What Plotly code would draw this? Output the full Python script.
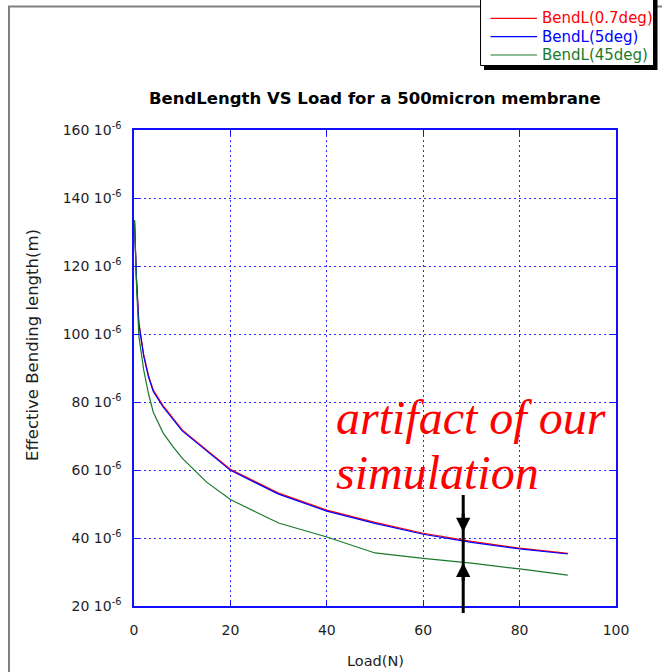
import plotly.graph_objects as go

# Load (N) at which the bending length was evaluated
load_n = [0.1, 0.5, 1, 2, 3, 4, 6, 8, 10, 15, 20, 30, 40, 50, 60, 70, 80, 90]

# Effective bending length, in units of 1e-6 m
bendl_07deg = [133.0, 117.0, 103.5, 94.0, 87.8, 83.5, 79.0, 75.3, 71.8, 66.0,
               60.2, 53.2, 48.2, 44.6, 41.4, 39.0, 37.0, 35.5]
bendl_5deg = [133.5, 116.5, 103.0, 93.6, 87.4, 83.1, 78.6, 75.0, 71.5, 65.7,
              59.9, 52.9, 47.9, 44.3, 41.1, 38.7, 36.8, 35.3]
bendl_45deg = [133.5, 115.0, 99.5, 89.5, 82.5, 77.0, 71.0, 67.0, 63.5, 56.5,
               51.3, 44.4, 40.3, 35.6, 34.0, 32.6, 30.9, 29.1]

series_names = ["BendL(0.7deg)", "BendL(5deg)", "BendL(45deg)"]
series_colors = ["#ff0000", "#0000ff", "#1a7a2a"]

x_ticks = [0, 20, 40, 60, 80, 100]
y_ticks = [20, 40, 60, 80, 100, 120, 140, 160]
y_ticktext = [f"{v} 10<sup>-6</sup>" for v in y_ticks]

# Load where the two curves are compared, and arrow tip levels (1e-6 m)
arrow_load = 68.3
arrow_tip_upper = 41.8
arrow_tip_lower = 32.7

W, H = 662, 672
ML, MR, MT, MB = 134, 46, 130, 66
PW, PH = W - ML - MR, H - MT - MB


def px_x(px):
    return (px - ML) / PW


def px_y(py):
    return (H - MB - py) / PH


AXIS_BLUE = "#1010ff"
GRID_BLUE = "#2a2aff"
TEXT = "#1e1e1e"

fig = go.Figure()
for name, color, ys in zip(series_names, series_colors,
                           [bendl_07deg, bendl_5deg, bendl_45deg]):
    fig.add_trace(go.Scatter(
        x=load_n, y=ys, mode="lines", name=name, showlegend=False,
        line=dict(color=color, width=1.2),
    ))

axis_common = dict(
    showline=True, linecolor=AXIS_BLUE, linewidth=1.5, mirror="ticks",
    ticks="inside", ticklen=6, tickcolor=AXIS_BLUE, tickwidth=1,
    showgrid=True, gridcolor=GRID_BLUE, gridwidth=1, griddash="2px,3px",
    zeroline=False,
    tickfont=dict(family="DejaVu Sans", size=14, color=TEXT),
)

fig.update_xaxes(range=[0, 100], tickvals=x_ticks, ticklabelstandoff=10,
                 **axis_common)
fig.update_yaxes(range=[20, 160], tickvals=y_ticks, ticktext=y_ticktext,
                 ticklabelstandoff=8, **axis_common)

shapes = [
    # window frame
    dict(type="line", xref="paper", yref="paper",
         x0=px_x(9), x1=px_x(9), y0=px_y(6.5), y1=px_y(H + 5),
         line=dict(color="#808080", width=2), layer="below"),
    dict(type="line", xref="paper", yref="paper",
         x0=px_x(8), x1=px_x(W + 5), y0=px_y(6.5), y1=px_y(6.5),
         line=dict(color="#808080", width=2), layer="below"),
    # legend box with drop shadow
    dict(type="rect", xref="paper", yref="paper",
         x0=px_x(484), x1=px_x(657.5), y0=px_y(-5), y1=px_y(70),
         fillcolor="black", line=dict(width=0), layer="above"),
    dict(type="rect", xref="paper", yref="paper",
         x0=px_x(480.5), x1=px_x(653.5), y0=px_y(-5), y1=px_y(65.5),
         fillcolor="white", line=dict(color="black", width=1), layer="above"),
    # comparison marker line
    dict(type="line", xref="x", yref="paper",
         x0=arrow_load, x1=arrow_load, y0=px_y(495), y1=px_y(613),
         line=dict(color="black", width=3), layer="above"),
]

annotations = [
    dict(text="BendLength VS Load for a 500micron membrane",
         xref="paper", yref="paper", x=0.5, y=px_y(98),
         xanchor="center", yanchor="middle", showarrow=False,
         font=dict(family="DejaVu Sans", size=16.5, color="black", weight="bold")),
    dict(text="Effective Bending length(m)", textangle=-90,
         xref="paper", yref="paper", x=px_x(32), y=px_y(345),
         xanchor="center", yanchor="middle", showarrow=False,
         font=dict(family="DejaVu Sans", size=16.5, color=TEXT)),
    dict(text="Load(N)",
         xref="paper", yref="paper", x=0.5, y=px_y(661),
         xanchor="center", yanchor="middle", showarrow=False,
         font=dict(family="DejaVu Sans", size=14.5, color=TEXT)),
    dict(text="<i>artifact of our</i>",
         xref="paper", yref="paper", x=px_x(334), y=px_y(417),
         xanchor="left", yanchor="middle", showarrow=False,
         font=dict(family="Liberation Serif", size=48, color="#ff0000")),
    dict(text="<i>simulation</i>",
         xref="paper", yref="paper", x=px_x(334), y=px_y(472),
         xanchor="left", yanchor="middle", showarrow=False,
         font=dict(family="Liberation Serif", size=48, color="#ff0000")),
    dict(text="", x=arrow_load, y=arrow_tip_upper, xref="x", yref="y",
         ax=0, ay=-20, showarrow=True, arrowhead=2, arrowsize=0.95,
         arrowwidth=3, arrowcolor="black"),
    dict(text="", x=arrow_load, y=arrow_tip_lower, xref="x", yref="y",
         ax=0, ay=20, showarrow=True, arrowhead=2, arrowsize=0.95,
         arrowwidth=3, arrowcolor="black"),
]

# Legend entries: sample line plus coloured label
legend_rows = [18.3, 36.7, 55.0]
for name, color, row in zip(series_names, series_colors, legend_rows):
    shapes.append(dict(type="line", xref="paper", yref="paper",
                       x0=px_x(490.5), x1=px_x(537), y0=px_y(row), y1=px_y(row),
                       line=dict(color=color, width=1.2), layer="above"))
    annotations.append(dict(text=name, xref="paper", yref="paper",
                            x=px_x(540), y=px_y(row), xanchor="left",
                            yanchor="middle", showarrow=False,
                            font=dict(family="DejaVu Sans", size=15, color=color)))

fig.update_layout(
    width=W, height=H,
    margin=dict(l=ML, r=MR, t=MT, b=MB, pad=0, autoexpand=False),
    paper_bgcolor="white", plot_bgcolor="white",
    showlegend=False,
    shapes=shapes,
    annotations=annotations,
)

fig.write_html("out.html")
